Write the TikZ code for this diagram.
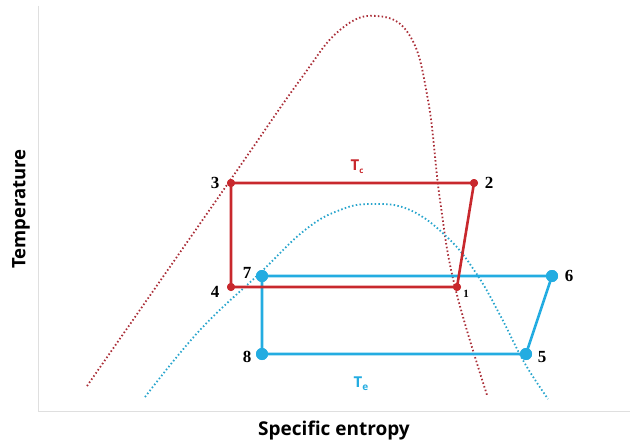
\documentclass[tikz,border=0pt]{standalone}
\usepackage{fontspec}
\setmainfont{Liberation Serif}
\newfontfamily\labelsans{Open Sans}
\begin{document}
\begin{tikzpicture}[x=1pt,y=-1pt,
  redc/.style={draw=cred,line width=2.6pt},
  bluec/.style={draw=cblue,line width=2.6pt},
  reddot/.style={circle,fill=cred,inner sep=0pt,minimum size=8pt},
  bluedot/.style={circle,fill=cblue,inner sep=0pt,minimum size=12pt},
  numlab/.style={font=\fontsize{17}{17}\selectfont\bfseries,text=black,inner sep=1pt},
  dotcurve/.style={line width=1.8pt,dash pattern=on 1.5pt off 2.3pt}
]
\definecolor{cred}{RGB}{200,40,45}
\definecolor{cblue}{RGB}{35,172,225}
\definecolor{credd}{RGB}{170,45,55}
\definecolor{cbluedot}{RGB}{40,165,205}
\useasboundingbox (0,0) rectangle (630,444);
% axes
\coordinate (ot) at (38,6);
\coordinate (o) at (38,411);
\coordinate (ox) at (630,411);
\draw[gray!25,line width=1pt] (ot) -- (o) -- (ox);
% saturation domes
\draw[credd,dotcurve] plot[smooth,tension=0.7] coordinates {(87,386) (229,182) (300,80) (340,30) (377,16) (410,36) (428,100) (440,200) (455,287) (487,395)};
\draw[cbluedot,dotcurve] plot[smooth,tension=0.7] coordinates {(145,397) (200,330) (260,273) (305,230) (340,210) (372,204) (410,210) (448,238) (476,273) (500,315) (524,362) (548,399)};
% points
\node[reddot] (p3) at (231,183) {};
\node[reddot] (p2) at (474,183) {};
\node[reddot] (p4) at (231,287) {};
\node[reddot] (p1) at (457,287) {};
\node[bluedot] (p7) at (262,276) {};
\node[bluedot] (p6) at (552,276) {};
\node[bluedot] (p8) at (262,354) {};
\node[bluedot] (p5) at (526,354) {};
% cycles
\draw[bluec] (p7.center) -- (p6.center) -- (p5.center) -- (p8.center) -- cycle;
\draw[redc] (p3.center) -- (p2.center) -- (p1.center) -- (p4.center) -- cycle;
\node[bluedot] at (p7) {};
\node[bluedot] at (p6) {};
\node[bluedot] at (p8) {};
\node[bluedot] at (p5) {};
\node[reddot] at (p3) {};
\node[reddot] at (p2) {};
\node[reddot] at (p4) {};
\node[reddot] at (p1) {};
% number labels
\node[numlab] (l3) at (215,183) {3};
\node[numlab] (l2) at (489,183) {2};
\node[numlab] (l4) at (215,292) {4};
\node[font=\fontsize{11}{11}\selectfont\bfseries,inner sep=1pt] (l1) at (466,294) {1};
\node[numlab] (l7) at (247,273) {7};
\node[numlab] (l6) at (569,276) {6};
\node[numlab] (l8) at (247,357) {8};
\node[numlab] (l5) at (542,357) {5};
% temperature labels
\node[text=cred,font=\labelsans\bfseries\fontsize{15}{15}\selectfont] (tc) at (357,167) {T\raisebox{-0.35ex}{\fontsize{8}{8}\selectfont c}};
\node[text=cblue,font=\labelsans\bfseries\fontsize{15}{15}\selectfont] (te) at (361,384) {T\raisebox{-0.35ex}{\fontsize{10}{10}\selectfont e}};
% axis titles
\node[font=\labelsans\bfseries\fontsize{19}{19}\selectfont] (xl) at (334,431) {Specific entropy};
\node[font=\labelsans\bfseries\fontsize{18.5}{18.5}\selectfont,rotate=90] (yl) at (21,209) {Temperature};
\end{tikzpicture}
\end{document}
